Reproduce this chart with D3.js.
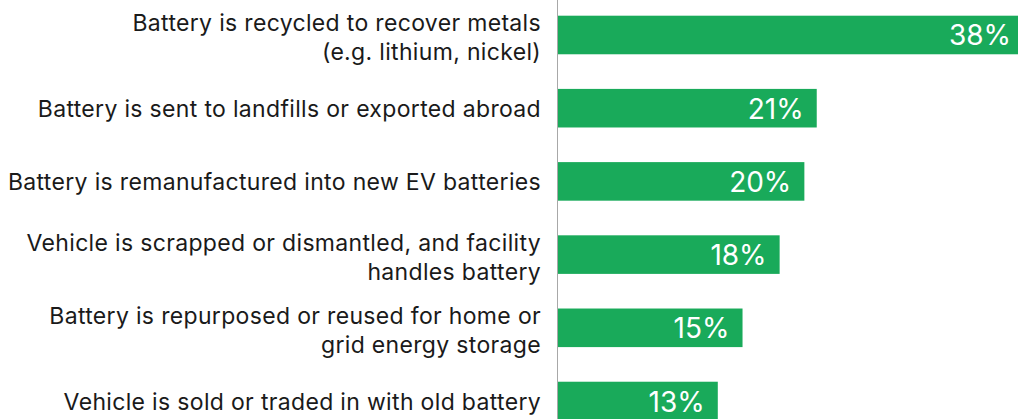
<!DOCTYPE html>
<html>
<head>
<meta charset="utf-8">
<script src="https://cdn.jsdelivr.net/npm/d3@7"></script>
<style>
  html, body { margin: 0; padding: 0; background: #fff; overflow: hidden; }
  svg { display: block; }
</style>
</head>
<body>
<svg id="chart" width="1018" height="419"></svg>
<script>
const categories = [
  ["Battery is recycled to recover metals", "(e.g. lithium, nickel)"],
  ["Battery is sent to landfills or exported abroad"],
  ["Battery is remanufactured into new EV batteries"],
  ["Vehicle is scrapped or dismantled, and facility", "handles battery"],
  ["Battery is repurposed or reused for home or", "grid energy storage"],
  ["Vehicle is sold or traded in with old battery"]
];
const values = [38, 21, 20, 18, 15, 13];
const valueLabels = ["38%", "21%", "20%", "18%", "15%", "13%"];

const svg = d3.select("#chart");
const ids = categories.map((c, i) => i);

const x = d3.scaleLinear().domain([0, 38]).range([557, 1027]);
const y = d3.scaleBand().domain(ids).range([15.7, 420.3]).paddingInner(0.473).paddingOuter(0);

const green = "#19aa5a";

// bars
svg.append("g").selectAll("rect").data(ids).join("rect")
  .attr("x", x(0))
  .attr("y", i => y(i))
  .attr("width", i => x(values[i]) - x(0))
  .attr("height", y.bandwidth())
  .attr("fill", green);

// axis line
svg.append("line")
  .attr("x1", x(0) + 0.5).attr("x2", x(0) + 0.5)
  .attr("y1", 0).attr("y2", 419)
  .attr("stroke", "#a8a8a8").attr("stroke-width", 1);

// category labels
const lineH = 29;
const lab = svg.append("g").selectAll("text").data(ids).join("text")
  .attr("text-anchor", "end")
  .attr("font-family", "Inter, sans-serif")
  .attr("font-size", 23)
  .attr("letter-spacing", "0.33px")
  .attr("fill", "#1a1a1a");
lab.each(function(i) {
  const lines = categories[i];
  const c = y(i) + y.bandwidth() / 2;
  const base = lines.length > 1 ? c - 4 : c + 8.5;
  d3.select(this).selectAll("tspan").data(lines).join("tspan")
    .attr("x", 541)
    .attr("y", (d, k) => base + k * lineH)
    .text(d => d);
});

// value labels
svg.append("g").selectAll("text").data(ids).join("text")
  .attr("x", i => Math.min(x(values[i]), 1024) - 13)
  .attr("y", i => y(i) + y.bandwidth() / 2 + 10.5)
  .attr("text-anchor", "end")
  .attr("font-family", "Inter, sans-serif")
  .attr("font-size", 28)
  .attr("fill", "#fff")
  .text(i => valueLabels[i]);
</script>
</body>
</html>
